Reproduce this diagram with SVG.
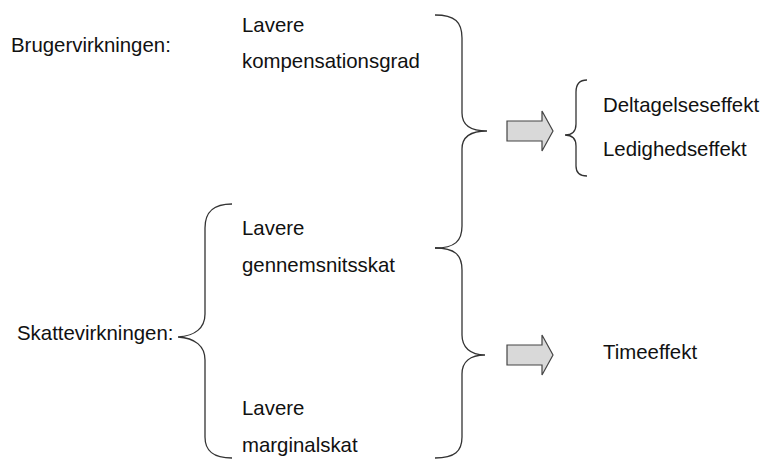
<svg xmlns="http://www.w3.org/2000/svg" width="763" height="460" viewBox="0 0 763 460">
<style>
text{font-family:"Liberation Sans",Arial,sans-serif;font-size:20.4px;fill:#111}
.brace{fill:none;stroke:#333;stroke-width:1.3}
.arrow{fill:#d9d9d9;stroke:#444;stroke-width:1.2}
</style>
<rect width="763" height="460" fill="#fff"/>
<g id="labels">
<text x="11" y="52">Brugervirkningen:</text>
<text x="17" y="340">Skattevirkningen:</text>
</g>
<g id="node-kompensationsgrad">
<text x="242" y="32">Lavere</text>
<text x="242" y="68">kompensationsgrad</text>
</g>
<g id="node-gennemsnitsskat">
<text x="242" y="235">Lavere</text>
<text x="242" y="272">gennemsnitsskat</text>
</g>
<g id="node-marginalskat">
<text x="242" y="415">Lavere</text>
<text x="242" y="452">marginalskat</text>
</g>
<g id="node-effekter">
<text x="603" y="112">Deltagelseseffekt</text>
<text x="603" y="156">Ledighedseffekt</text>
</g>
<g id="node-timeeffekt">
<text x="603" y="359">Timeeffekt</text>
</g>
<g id="connectors">
<path class="brace" d="M435,15 C455,15 462,22 462,38 L462,113 C462,125 470,131 487,131 C470,131 462,137 462,149 L462,226 C462,241 455,248 435,248"/>
<path class="brace" d="M435,248 C455,248 462,255 462,270 L462,335 C462,347 470,355 485,355 C470,355 462,362 462,374 L462,437 C462,451 455,458 435,458"/>
<path class="brace" d="M232,204 C213,204 205,212 205,228 L205,314 C205,328 195,336 178,337 C195,338 205,346 205,360 L205,437 C205,451 213,458 232,458"/>
<path class="brace" d="M587,80 C580,80 576,84 576,92 L576,124 C576,131 572,135 565,135 C572,135 576,139 576,146 L576,166 C576,173 580,176 587,176"/>
<path class="arrow" d="M507,121 L542,121 L542,111 L553,131 L542,151 L542,141 L507,141 Z"/>
<path class="arrow" d="M507,345 L542,345 L542,335 L553,355 L542,375 L542,365 L507,365 Z"/>
</g>
</svg>
